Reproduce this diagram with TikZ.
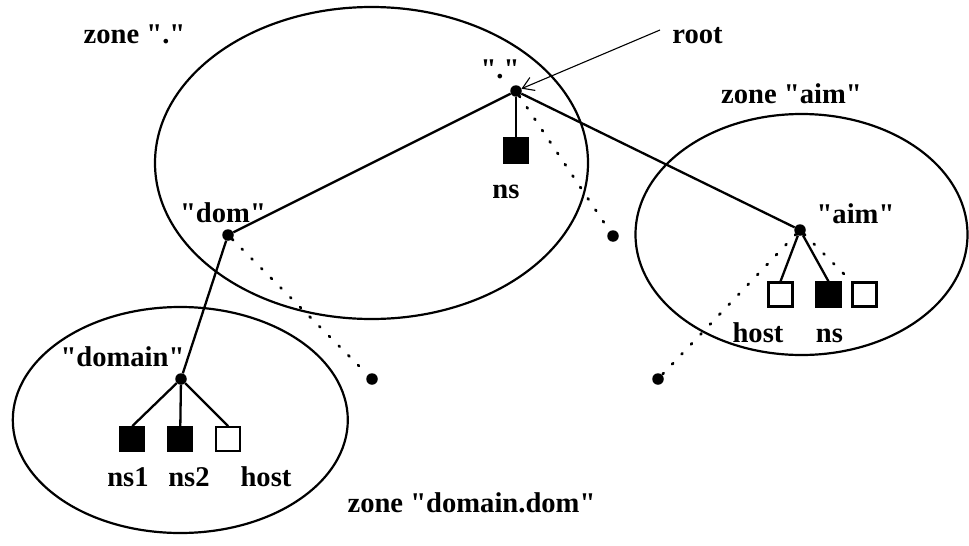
\documentclass[tikz,border=0pt]{standalone}
\usepackage{fontspec}
\setmainfont{Liberation Serif}[Ligatures=TeXOff]
\usetikzlibrary{arrows.meta}
\begin{document}
\begin{tikzpicture}[x=1pt,y=-1pt,
  lbl/.style={font=\fontsize{28.6}{31}\selectfont\bfseries, anchor=base, inner sep=0pt},
  dotn/.style={circle, fill=black, inner sep=0pt, minimum size=11.5pt},
  fsq/.style={draw=black, fill=black, line width=2.2pt, inner sep=0pt, minimum size=24pt},
  osq/.style={draw=black, fill=white, line width=2.2pt, inner sep=0pt, minimum size=24pt},
  zoneline/.style={draw=black, line width=2.2pt},
  edge/.style={line width=2.3pt},
  dotline/.style={line width=2.8pt, dash pattern=on 1.2pt off 12.5pt, line cap=round}
]
\useasboundingbox (0,0) rectangle (969,546);

% zones
\draw[zoneline] (371.5,163) ellipse [x radius=216.5pt, y radius=156pt];
\draw[zoneline] (801.5,234.5) ellipse [x radius=166pt, y radius=120.5pt];
\draw[zoneline] (180.3,420) ellipse [x radius=167.5pt, y radius=113pt];

% tree nodes
\node[dotn] (root) at (516,91) {};
\node[dotn] (dom) at (228,235) {};
\node[dotn] (domain) at (181,379) {};
\node[dotn] (aim) at (800,230) {};
\node[dotn] (e1) at (613,236) {};
\node[dotn] (e2) at (372,379) {};
\node[dotn] (e3) at (658,379) {};

% resource squares
\node[fsq] (rns) at (516,150.5) {};
\node[osq] (ahost) at (780.5,294.5) {};
\node[fsq] (ans) at (828.5,294.5) {};
\node[osq] (aoth) at (864.5,294.5) {};
\node[fsq] (dns1) at (132.3,439.2) {};
\node[fsq] (dns2) at (180.3,439.2) {};
\node[osq] (dhost) at (228.2,439.2) {};

% edges
\draw[edge] (root) -- (dom);
\draw[edge] (root) -- (aim);
\draw[edge] (dom) -- (domain);
\draw[edge] (root) -- (rns.north);
\draw[edge] (aim) -- (ahost.north);
\draw[edge] (aim) -- (ans.north);
\draw[edge] (domain) -- (dns1.north);
\draw[edge] (domain) -- (dns2.north);
\draw[edge] (domain) -- (dhost.north);

% dotted edges
\draw[dotline] (root) -- (e1);
\draw[dotline] (dom) -- (e2);
\draw[dotline] (aim) -- (e3);
\draw[dotline] (aim) -- (aoth.north west);

% root pointer
\coordinate (rootfrom) at (660,30);
\draw[line width=1.1pt, -{Straight Barb[length=11pt,width=14pt]}] (rootfrom) -- (root);

% labels
\node[lbl] (tzroot) at (134.5,43) {zone "."};
\node[lbl] (troot) at (697.5,43) {root};
\node[lbl] (tdot) at (500,78) {"."};
\node[lbl] (trns) at (506,198) {ns};
\node[lbl] (tdom) at (223,222) {"dom"};
\node[lbl] (tdomain) at (122.5,366) {"domain"};
\node[lbl] (tns1) at (128,486) {ns1};
\node[lbl] (tns2) at (189,486) {ns2};
\node[lbl] (tdhost) at (266,486) {host};
\node[lbl] (tzdom) at (471.5,512) {zone "domain.dom"};
\node[lbl] (tzaim) at (791.5,103) {zone "aim"};
\node[lbl] (taim) at (855.5,223) {"aim"};
\node[lbl] (tahost) at (758,342) {host};
\node[lbl] (tans) at (829.5,342) {ns};
\end{tikzpicture}
\end{document}
